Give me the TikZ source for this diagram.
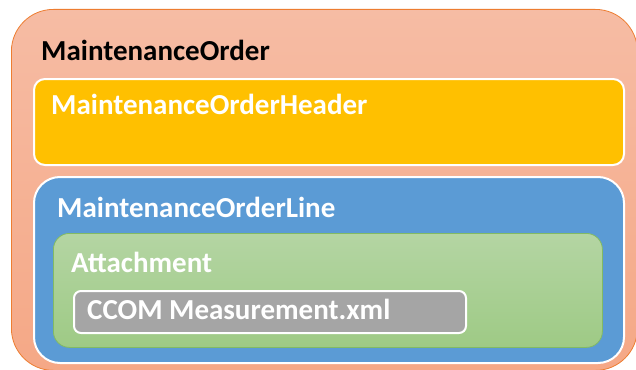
\documentclass[tikz,border=0pt]{standalone}
\usepackage{fontspec}
\setmainfont{Carlito}
\usepackage{xcolor}

\definecolor{orderTop}{RGB}{246,188,164}
\definecolor{orderBot}{RGB}{245,168,134}
\definecolor{orderLine}{RGB}{237,125,49}
\definecolor{headerFill}{RGB}{255,192,0}
\definecolor{lineFill}{RGB}{91,155,213}
\definecolor{attTop}{RGB}{180,213,163}
\definecolor{attBot}{RGB}{158,202,133}
\definecolor{attLine}{RGB}{130,186,100}
\definecolor{fileFill}{RGB}{165,165,165}

\begin{document}
\begin{tikzpicture}[x=1pt, y=-1pt,
  box/.style={rectangle, anchor=north west, inner sep=0pt},
  label/.style={anchor=base west, inner sep=0pt, font=\bfseries\fontsize{29}{32}\selectfont}]
  \useasboundingbox (0,0) rectangle (636,369);

  \node[box, rounded corners=42pt, top color=orderTop, bottom color=orderBot, draw=orderLine, line width=0.8pt,
        minimum width=626pt, minimum height=361pt] (order) at (11,9) {};
  \node[label, text=black] (orderT) at (41,60) {MaintenanceOrder};

  \node[box, rounded corners=11pt, fill=headerFill, draw=white, line width=2pt,
        minimum width=590pt, minimum height=86pt] (header) at (33,78) {};
  \node[label, text=white] (headerT) at (51,114) {MaintenanceOrderHeader};

  \node[box, rounded corners=26pt, fill=lineFill, draw=white, line width=2pt,
        minimum width=590pt, minimum height=186pt] (line) at (33,176) {};
  \node[label, text=white] (lineT) at (57,217) {MaintenanceOrderLine};

  \node[box, rounded corners=16pt, top color=attTop, bottom color=attBot, draw=attLine, line width=0.8pt,
        minimum width=549pt, minimum height=114pt] (att) at (53,233) {};
  \node[label, text=white] (attT) at (71,272) {Attachment};

  \node[box, rounded corners=7pt, fill=fileFill, draw=white, line width=2pt,
        minimum width=392pt, minimum height=42pt] (file) at (73,290) {};
  \node[label, text=white] (fileT) at (87,319) {CCOM Measurement.xml};
\end{tikzpicture}
\end{document}
